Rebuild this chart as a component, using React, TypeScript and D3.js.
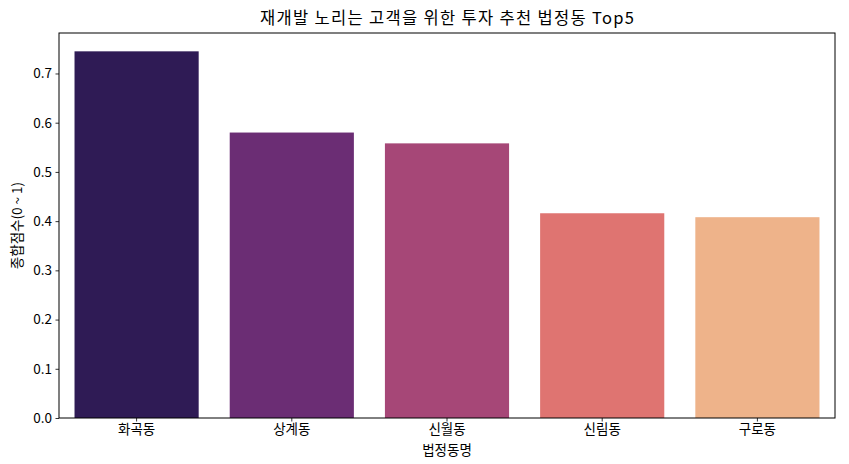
import React, { useEffect, useRef } from 'react';
import { select, scaleBand, scaleLinear, axisBottom, axisLeft, range } from 'd3';

const districts = ['화곡동', '상계동', '신월동', '신림동', '구로동'];
const scores = [0.745, 0.580, 0.558, 0.416, 0.408];
const barColors = ['#2f1b55', '#6b2d74', '#a64777', '#df7471', '#eeb38a'];
const yTicks = [0.0, 0.1, 0.2, 0.3, 0.4, 0.5, 0.6, 0.7];

const W = 849;
const H = 464;
const margin = { top: 33, right: 14, bottom: 46, left: 59 };
const FONT = "'Noto Sans CJK KR', 'Noto Sans', sans-serif";

export default function App() {
  const svgRef = useRef<SVGSVGElement>(null);

  useEffect(() => {
    if (!svgRef.current) return;
    const svg = select(svgRef.current);
    svg.selectAll('*').remove();

    const innerW = W - margin.left - margin.right;
    const innerH = H - margin.top - margin.bottom;

    const x = scaleBand<string>().domain(districts).range([0, innerW]).paddingInner(0.2).paddingOuter(0.1);
    const y = scaleLinear().domain([0, Math.max(...scores) * 1.05]).range([innerH, 0]);

    const g = svg.append('g').attr('transform', `translate(${margin.left},${margin.top})`);

    // bars
    g.selectAll('rect.bar')
      .data(range(districts.length))
      .enter()
      .append('rect')
      .attr('class', 'bar')
      .attr('x', (i) => x(districts[i])!)
      .attr('width', x.bandwidth())
      .attr('y', (i) => y(scores[i]))
      .attr('height', (i) => innerH - y(scores[i]))
      .attr('fill', (i) => barColors[i]);

    // axes
    const xAxis = g.append('g')
      .attr('transform', `translate(0,${innerH})`)
      .call(axisBottom(x).tickSize(3.5).tickPadding(3));
    const yAxis = g.append('g')
      .call(axisLeft(y).tickValues(yTicks).tickFormat((d) => (d as number).toFixed(1)).tickSize(3.5).tickPadding(3.5));

    [xAxis, yAxis].forEach((ax) => {
      ax.select('.domain').remove();
      ax.selectAll('line').attr('stroke', '#000').attr('stroke-width', 0.8);
      ax.selectAll('text').attr('fill', '#000').style('font-family', FONT).style('font-size', '13.5px');
    });

    // frame
    g.append('rect')
      .attr('width', innerW)
      .attr('height', innerH)
      .attr('fill', 'none')
      .attr('stroke', '#000')
      .attr('stroke-width', 1);

    // title
    svg.append('text')
      .attr('x', margin.left + innerW / 2)
      .attr('y', 24)
      .attr('text-anchor', 'middle')
      .attr('textLength', 374)
      .attr('lengthAdjust', 'spacing')
      .style('font-family', FONT)
      .style('font-size', '16.5px')
      .attr('fill', '#000')
      .text('재개발 노리는 고객을 위한 투자 추천 법정동 Top5');

    // x label
    svg.append('text')
      .attr('x', margin.left + innerW / 2)
      .attr('y', 455)
      .attr('text-anchor', 'middle')
      .style('font-family', FONT)
      .style('font-size', '13.5px')
      .attr('fill', '#000')
      .text('법정동명');

    // y label
    svg.append('text')
      .attr('transform', `translate(22,${margin.top + innerH / 2}) rotate(-90)`)
      .attr('text-anchor', 'middle')
      .style('font-family', FONT)
      .style('font-size', '13.5px')
      .attr('fill', '#000')
      .text('종합점수(0 ~ 1)');
  }, []);

  return (
    <svg
      ref={svgRef}
      width={W}
      height={H}
      style={{ position: 'absolute', left: 0, top: 0, background: '#fff' }}
    />
  );
}
